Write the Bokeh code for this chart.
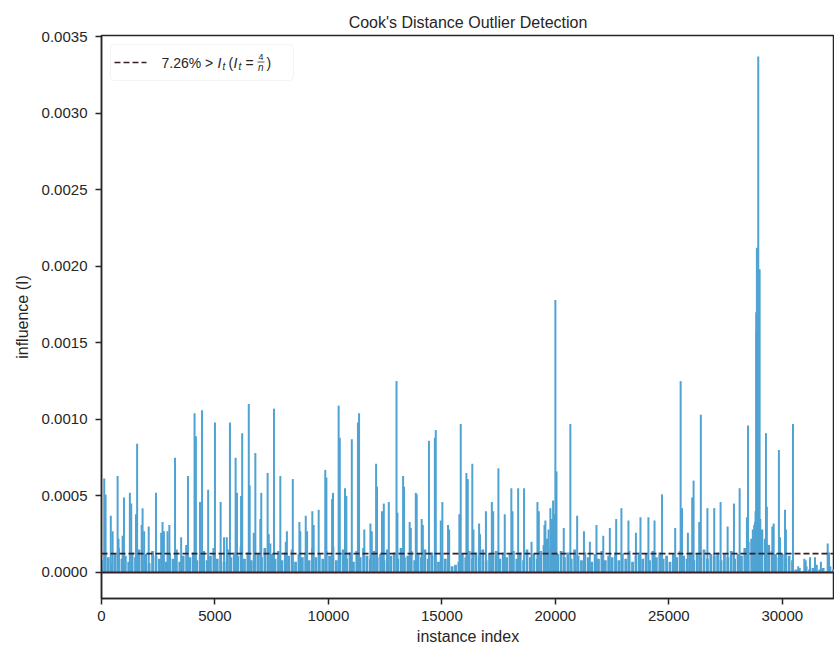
import numpy as np
from bokeh.plotting import figure
from bokeh.models import Range1d, FixedTicker, PrintfTickFormatter, BoxAnnotation, Span
from bokeh.embed import file_html
from bokeh.resources import INLINE
from bokeh.core.properties import value

# ---------------- data ----------------
n_instances = 32561
outlier_pct = 7.26

spike_index = [
    120, 180, 410, 490, 710, 750, 930, 990, 1250, 1310, 1520, 1570, 1770, 1810, 1880,
    2080, 2400, 2630, 2690, 2750, 2910, 2990, 3240, 3510, 3810, 4100, 4160, 4340, 4430,
    4700, 5000, 5250, 5400, 5520, 5660, 5910, 5970, 6150, 6200, 6490, 6530, 6710, 6780,
    7000, 7040, 7320, 7370, 7440, 7600, 7880, 8120, 8170, 8430, 8720, 8760, 9000, 9060,
    9290, 9350, 9570, 9860, 9910, 10160, 10200, 10450, 10500, 10730, 10790, 11030, 11300,
    11350, 11580, 11850, 11910, 12100, 12140, 12360, 12440, 12660, 13000, 13040, 13290,
    13330, 13580, 13630, 13850, 13890, 14110, 14160, 14430, 14690, 14730, 14950, 15020,
    15270, 15320, 15770, 15830, 16080, 16140, 16340, 16390, 16640, 16680, 16940, 17200,
    17260, 17490, 17770, 18060, 18110, 18360, 18620, 18950, 19210, 19270, 19520, 19560,
    19700, 19780, 19850, 19900, 19950, 20000, 20050, 20370, 20660, 20960, 21260, 21520,
    21810, 22110, 22400, 22680, 22910, 23220, 23550, 23750, 24100, 24370, 24700, 25280,
    25520, 25580, 25840, 26030, 26090, 26340, 26410, 26700, 27000, 27280, 27590, 27870,
    28120, 28440, 28490, 28700, 28760, 28800, 28820, 28850, 28860, 28880, 28900, 28940,
    28960, 29000, 29030, 29080, 29280, 29320, 29560, 29620, 29850, 29900, 30120, 30160,
    30470, 30700, 30970, 31030, 31220, 31440, 31700, 32000, 32060,
]
spike_influence = [
    0.000613, 0.00051, 0.00037, 0.00027, 0.00063, 0.00022, 0.00024, 0.00049, 0.00052, 0.00045,
    0.00038, 0.00084, 0.00031, 0.00042, 0.00027,
    0.00030, 0.00052, 0.00026, 0.00033, 0.00027, 0.00027, 0.00031, 0.00075, 0.00023, 0.00063,
    0.00104, 0.00089, 0.00046, 0.00106,
    0.00054, 0.00098, 0.00046, 0.00023, 0.00023, 0.00098, 0.00075, 0.00052, 0.00050, 0.00091,
    0.00110, 0.00057, 0.00026, 0.00078,
    0.00035, 0.00052, 0.00065, 0.00025, 0.00019, 0.00107, 0.00063, 0.00020, 0.00027, 0.00061,
    0.00033, 0.00027, 0.00037, 0.00027,
    0.00040, 0.00031, 0.00041, 0.00067, 0.00062, 0.00048, 0.00052, 0.00109, 0.00088, 0.00055,
    0.00050, 0.00087, 0.00098,
    0.00104, 0.00028, 0.00032, 0.00027, 0.00071, 0.00056, 0.00040, 0.00045, 0.00046, 0.00125,
    0.00039, 0.00063,
    0.00056, 0.00033, 0.00029, 0.00052, 0.00051, 0.00035, 0.00031, 0.00086, 0.00088, 0.00093,
    0.00034, 0.00046,
    0.00031, 0.00028, 0.00038, 0.00097, 0.00065, 0.00061, 0.00071, 0.00028, 0.00032, 0.00025,
    0.00040, 0.00046,
    0.00040, 0.00068, 0.00038, 0.00055, 0.00040, 0.00055, 0.00055, 0.00020, 0.00046, 0.00040,
    0.00031, 0.00034,
    0.00028, 0.00042, 0.00035, 0.00047, 0.00038, 0.00178, 0.00066, 0.00029, 0.00097, 0.00037,
    0.00027, 0.00020,
    0.00031, 0.00024, 0.00029, 0.00035, 0.00042, 0.00034, 0.00026, 0.00036, 0.00036, 0.00034,
    0.00051, 0.00029,
    0.00125, 0.00042, 0.00026, 0.00049, 0.00060, 0.00033, 0.00103, 0.00042, 0.00042, 0.00046,
    0.00030, 0.00045,
    0.00055, 0.00036, 0.00096, 0.00028, 0.00031, 0.00033, 0.00040, 0.00170, 0.00158, 0.00212,
    0.00055, 0.00337,
    0.00060, 0.00198, 0.00035, 0.00026, 0.00091, 0.00043, 0.00030, 0.00032, 0.00080, 0.00023,
    0.00041, 0.00028,
    0.00097, 0.00004, 0.00009, 0.00008, 0.00010, 0.00010, 0.00007, 0.00019, 0.00013,
]

# dense low-level influence, one reading every 150 instances (units of 1e-5)
floor_step = 150
floor_influence_e5 = [
    8, 14, 10, 6, 12, 16, 9, 11, 7, 13,
    10, 15, 8, 12, 6, 14, 11, 9, 13, 7,
    12, 9, 15, 7, 11, 18, 10, 13, 8, 12,
    14, 8, 11, 16, 9, 12, 7, 15, 10, 13,
    11, 17, 9, 13, 8, 14, 12, 10, 16, 7,
    12, 9, 14, 8, 13, 11, 15, 7, 12, 10,
    13, 8, 16, 10, 12, 9, 14, 11, 17, 8,
    12, 15, 9, 13, 7, 14, 10, 16, 11, 9,
    14, 10, 12, 8, 15, 11, 13, 9, 16, 10,
    11, 14, 8, 12, 10, 15, 9, 13, 11, 7,
    12, 9, 6, 4, 5, 7, 12, 10, 14, 9,
    13, 10, 15, 8, 12, 11, 14, 9, 13, 10,
    12, 14, 9, 13, 8, 15, 10, 12, 9, 14,
    18, 22, 16, 20, 12, 14, 10, 13, 9, 15,
    11, 8, 13, 10, 7, 12, 9, 14, 8, 11,
    10, 13, 8, 12, 9, 14, 7, 11, 13, 9,
    12, 8, 14, 10, 13, 9, 11, 7, 12, 10,
    14, 11, 9, 13, 8, 12, 10, 15, 9, 12,
    11, 13, 8, 12, 10, 14, 9, 12, 11, 16,
    20, 22, 25, 24, 28, 22, 18, 14, 12, 10,
    12, 9, 11, 8,
    2, 3, 1, 4, 2, 3, 5, 2, 3, 1, 4, 2,
]

x_ticks = [0, 5000, 10000, 15000, 20000, 25000, 30000]
y_ticks = [0.0, 0.0005, 0.0010, 0.0015, 0.0020, 0.0025, 0.0030, 0.0035]

threshold = 4.0 / n_instances

# ---------------- figure ----------------
X_START, X_END = 0, 32300
Y_START, Y_END = -0.00017, 0.003507

STEM = "#4fa3d3"
DARK = "#3b1f26"
INK = "#262626"
FONT = "Liberation Sans"

p = figure(width=834, height=651, output_backend="svg", toolbar_location=None,
           x_range=Range1d(X_START, X_END), y_range=Range1d(Y_START, Y_END),
           min_border_left=101, min_border_right=0, min_border_top=35, min_border_bottom=53,
           title="Cook's Distance Outlier Detection")
p.background_fill_color = "white"
p.border_fill_color = "white"
p.grid.visible = False
p.outline_line_color = INK
p.outline_line_width = 1.5

p.title.align = "center"
p.title.text_font = FONT
p.title.text_font_size = "16px"
p.title.text_font_style = "normal"
p.title.text_color = INK

for ax in (p.xaxis[0], p.yaxis[0]):
    ax.axis_line_color = INK
    ax.axis_line_width = 1.5
    ax.major_tick_line_color = INK
    ax.major_tick_line_width = 1.5
    ax.major_tick_out = 6
    ax.major_tick_in = 0
    ax.minor_tick_line_color = None
    ax.major_label_text_font = FONT
    ax.major_label_text_font_size = "15px"
    ax.major_label_text_color = INK
    ax.axis_label_text_font = FONT
    ax.axis_label_text_font_size = "16px"
    ax.axis_label_text_font_style = "normal"
    ax.axis_label_text_color = INK

p.xaxis.ticker = FixedTicker(ticks=x_ticks)
p.yaxis.ticker = FixedTicker(ticks=y_ticks)
p.yaxis.formatter = PrintfTickFormatter(format="%.4f")
p.xaxis.major_label_standoff = 6
p.yaxis.major_label_standoff = 8
p.xaxis.axis_label = "instance index"
p.yaxis.axis_label = "influence (I)"
p.xaxis.axis_label_standoff = 4
p.yaxis.axis_label_standoff = 8

# dense floor stems
floor_idx = np.arange(len(floor_influence_e5)) * floor_step
floor_val = np.array(floor_influence_e5) * 1e-5
p.segment(x0=floor_idx, y0=np.zeros(len(floor_idx)), x1=floor_idx, y1=floor_val,
          line_color=STEM, line_width=2.8)

# spikes
p.segment(x0=spike_index, y0=[0.0] * len(spike_index), x1=spike_index, y1=spike_influence,
          line_color=STEM, line_width=2.0)

# baseline and threshold
p.add_layout(Span(location=0.0, dimension="width", line_color=DARK, line_width=2))
p.add_layout(Span(location=threshold, dimension="width", line_color=DARK, line_width=1.6,
                  line_dash="6 3"))

# ---------------- hand-built legend (positions from frame fractions) ----------------
FRAME_L, FRAME_R, FRAME_T, FRAME_B = 101, 834, 35, 598


def fx(px):
    return X_START + (px - FRAME_L) / (FRAME_R - FRAME_L) * (X_END - X_START)


def fy(py):
    return Y_END - (py - FRAME_T) / (FRAME_B - FRAME_T) * (Y_END - Y_START)


p.add_layout(BoxAnnotation(left=fx(110), right=fx(293), top=fy(44), bottom=fy(80),
                           fill_color="white", fill_alpha=0.9, line_color="#d6d6d6",
                           line_width=1, border_radius=4, level="glyph"))
p.line(x=[fx(114), fx(146)], y=[fy(62), fy(62)], line_color=DARK, line_width=1.6,
       line_dash="6 3", level="annotation")


def txt(px, py, s, size, style="normal"):
    p.text(x=[fx(px)], y=[fy(py)], text=[s], text_font=value(FONT), text_font_size=size,
           text_font_style=style, text_color=INK, text_baseline="middle", text_align="left",
           level="annotation")


txt(161, 62, f"{outlier_pct:.2f}% > ", "14px")
txt(217, 62, "I", "14px", "italic")
txt(222, 66, "t", "10px", "italic")
txt(228, 62, "(", "14px")
txt(233, 62, "I", "14px", "italic")
txt(238, 66, "t", "10px", "italic")
txt(245, 62, "=", "14px")
txt(258, 56, "4", "9px")
p.line(x=[fx(257), fx(264)], y=[fy(61.5), fy(61.5)], line_color=INK, line_width=0.8,
       level="annotation")
txt(257.5, 67, "n", "10px", "italic")
txt(266, 62, ")", "14px")

open("out.html", "w").write(file_html(p, INLINE))
